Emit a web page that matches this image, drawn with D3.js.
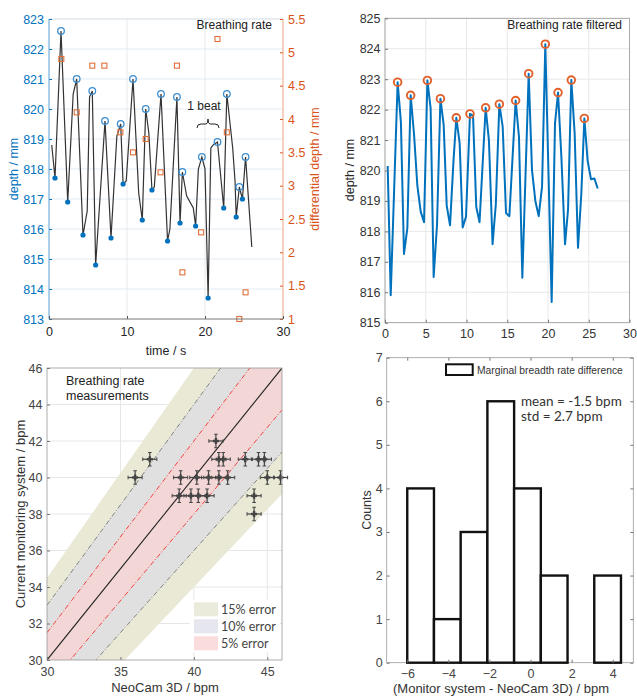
<!DOCTYPE html>
<html><head><meta charset="utf-8">
<script src="https://cdn.jsdelivr.net/npm/d3@7"></script>
<style>body{margin:0;background:#fff}svg{display:block}text{font-family:"Liberation Sans",Arial,sans-serif}</style>
</head><body><svg id="c" width="637" height="696"></svg>
<script>
// ---------- DATA ----------
// Panel A: raw breathing signal
const rawTime  = [0.35,0.77,1.54,2.4,3.1,3.55,4.36,4.9,5.2,5.55,5.98,7.18,7.95,8.7,9.19,9.5,9.9,10.77,11.5,11.96,12.4,12.8,13.2,13.5,14.36,15.2,15.5,16.4,16.8,17.1,17.65,18.5,18.8,19.15,19.6,20.0,20.4,20.75,21.05,21.6,22.4,22.8,23.55,23.85,24.0,24.4,24.8,25.2,26.0];
const rawDepth = [818.8,817.7,822.6,816.9,820.5,821.0,815.8,816.6,820.4,820.6,814.8,819.6,815.7,819.1,819.5,817.5,817.6,821.0,817.2,816.3,820.0,819.2,817.3,817.4,820.5,815.6,816.0,820.4,816.2,817.9,817.1,816.7,816.1,818.0,818.4,818.0,813.7,818.7,818.8,818.9,816.7,820.5,818.7,817.6,816.4,817.4,817.0,818.4,815.4];
const peakTime  = [1.54,3.55,5.55,7.18,9.19,10.77,12.4,14.36,16.4,17.1,19.6,21.6,22.8,24.4,25.2];
const peakDepth = [822.6,821.0,820.6,819.6,819.5,821.0,820.0,820.5,820.4,817.9,818.4,818.9,820.5,817.4,818.4];
const troughTime  = [0.77,2.4,4.36,5.98,7.95,9.5,11.96,13.2,15.2,16.8,18.8,20.4,22.4,24.0,24.8];
const troughDepth = [817.7,816.9,815.8,814.8,815.7,817.5,816.3,817.3,815.6,816.2,816.1,813.7,816.7,816.4,817.0];
const diffTime  = [1.58,3.55,5.55,7.1,9.15,10.77,12.4,14.3,16.4,17.1,19.5,21.6,22.8,24.4,25.2];
const diffValue = [4.9,4.1,4.8,4.8,3.8,3.5,3.7,3.2,4.8,1.7,2.3,5.2,3.8,1.0,1.4];
const depthTicksA = [813,814,815,816,817,818,819,820,821,822,823];
const diffTicks = [1,1.5,2,2.5,3,3.5,4,4.5,5,5.5];
const timeTicksA = [0,10,20,30];
// Panel B: filtered signal
const filtTime  = [0.33,0.7,1.55,1.95,2.33,2.74,3.15,3.56,3.97,4.38,4.79,5.2,5.6,5.97,6.38,6.8,7.2,7.57,7.98,8.4,8.75,9.16,9.53,9.94,10.43,10.8,11.2,11.6,12.35,12.75,13.2,13.6,14.03,14.44,14.85,15.26,16.03,16.44,16.85,17.63,18.04,18.45,18.86,19.27,19.67,20.45,20.86,21.23,21.64,22.09,22.46,22.86,23.27,23.68,24.09,24.46,24.87,25.28,25.69,26.1];
const filtDepth = [820.15,815.9,822.9,821.6,817.26,818.1,822.47,821.2,819.5,818.65,818.3,822.96,822.04,816.5,818.2,822.36,821.5,818.85,818.2,820.3,821.73,820.9,818.13,818.48,821.86,821.8,818.8,818.3,822.06,821.0,817.58,818.9,822.18,821.44,818.6,818.5,822.3,821.1,816.48,823.18,820.0,819.0,818.5,819.47,824.15,815.68,821.55,822.56,820.45,817.58,818.72,822.97,821.22,817.46,819.25,821.71,820.31,819.71,819.74,819.41];
const filtPeakTime  = [1.55,3.15,5.2,6.8,8.75,10.43,12.35,14.03,16.03,17.63,19.67,21.23,22.86,24.46];
const filtPeakDepth = [822.9,822.47,822.96,822.36,821.73,821.86,822.06,822.18,822.3,823.18,824.15,822.56,822.97,821.71];
const depthTicksB = [815,816,817,818,819,820,821,822,823,824,825];
const timeTicksB = [0,5,10,15,20,25,30];
// Panel C: measurement comparison
const neoCam  = [36,37,41.5,41.7,42.0,43.5,44.4,44.8,39.1,40.2,41.0,41.7,42.3,45.0,45.9,39.0,39.8,40.3,40.9,44.1,44.1];
const monitor = [40,41,42,41,41,41,41,41,40,40,40,40,40,40,40,39,39,39,39,39,38];
const errorLevels = [0.15,0.10,0.05];
const errorLabels = ["15% error","10% error","5% error"];
const bpmTicksX = [30,35,40,45];
const bpmTicksY = [30,32,34,36,38,40,42,44,46];
// Panel D: histogram
const binEdges  = [-6,-4.7,-3.4,-2.1,-0.8,0.5,1.8,3.1,4.4];
const binCounts = [4,1,3,6,4,2,0,2];
const diffTicksX = [-6,-4,-2,0,2,4];
const countTicks = [0,1,2,3,4,5,6,7];

// ---------- DRAW ----------
const svg = d3.select("#c");
const FONT = '"Liberation Sans", Arial, sans-serif';
const CAL = 'Lato, "Open Sans", sans-serif';
const BLUE = "#0072BD", ORANGE = "#D95319";
const fmtInt = d3.format("d");

function styleAxis(g, lineColor, textColor, size) {
  g.select(".domain").remove();
  g.selectAll(".tick line").attr("stroke", lineColor);
  g.selectAll(".tick text").attr("fill", textColor).style("font-size", size + "px").style("font-family", FONT);
}
function hline(g, x1, x2, y, c, w) { g.append("line").attr("x1", x1).attr("x2", x2).attr("y1", y).attr("y2", y).attr("stroke", c).attr("stroke-width", w || 1); }
function vline(g, x, y1, y2, c, w) { g.append("line").attr("x1", x).attr("x2", x).attr("y1", y1).attr("y2", y2).attr("stroke", c).attr("stroke-width", w || 1); }

// ===== Panel A =====
{
  const g = svg.append("g");
  const x = d3.scaleLinear([0, 30], [49, 283]);
  const yL = d3.scaleLinear([813, 823], [319, 19]);
  const yR = d3.scaleLinear([1, 5.5], [319, 19]);
  depthTicksA.slice(1, -1).forEach(d => hline(g, x(0), x(30), yL(d), "#e2ebf4"));
  [10, 20].forEach(t => vline(g, x(t), yL(823), yL(813), "#e6eaee"));
  hline(g, x(0), x(30), yL(823), "#d2dce6");

  const line = d3.line().x(d => x(d[0])).y(d => yL(d[1]));
  g.append("path").datum(rawTime.map((t, i) => [t, rawDepth[i]])).attr("d", line)
    .attr("fill", "none").attr("stroke", "#333").attr("stroke-width", 1.2);
  g.selectAll(null).data(peakTime).join("circle").attr("cx", d => x(d)).attr("cy", (d, i) => yL(peakDepth[i]))
    .attr("r", 3.3).attr("fill", "none").attr("stroke", "#3d8fd1").attr("stroke-width", 1.3);
  g.selectAll(null).data(troughTime).join("circle").attr("cx", d => x(d)).attr("cy", (d, i) => yL(troughDepth[i]))
    .attr("r", 2.6).attr("fill", BLUE);
  g.selectAll(null).data(diffTime).join("rect").attr("x", d => x(d) - 2.5).attr("y", (d, i) => yR(diffValue[i]) - 2.5)
    .attr("width", 5).attr("height", 5).attr("fill", "none").attr("stroke", "#e0703a").attr("stroke-width", 1.1);

  const ga = g.append("g").attr("transform", "translate(49,0)")
    .call(d3.axisLeft(yL).tickValues(depthTicksA).tickSize(-3).tickPadding(5).tickFormat(fmtInt));
  styleAxis(ga, BLUE, BLUE, 12.5);
  vline(g, 49, 19, 319, "#5a9fd6");
  const gr = g.append("g").attr("transform", "translate(283,0)")
    .call(d3.axisRight(yR).tickValues(diffTicks).tickSize(-3).tickPadding(5).tickFormat(d => d));
  styleAxis(gr, ORANGE, ORANGE, 12.5);
  vline(g, 283, 19, 319, "#eba17c");
  const gb = g.append("g").attr("transform", "translate(0,319)")
    .call(d3.axisBottom(x).tickValues(timeTicksA).tickSize(-3).tickPadding(8).tickFormat(fmtInt));
  styleAxis(gb, "#555", "#262626", 12.5);
  hline(g, 49, 283, 319, "#777");

  g.append("text").attr("x", 14).attr("y", 169).attr("transform", "rotate(-90,14,169)").attr("text-anchor", "middle")
    .attr("dy", "0.35em").attr("fill", BLUE).style("font-size", "12.5px").text("depth / mm");
  g.append("text").attr("x", 315).attr("y", 169).attr("transform", "rotate(-90,315,169)").attr("text-anchor", "middle")
    .attr("dy", "0.35em").attr("fill", ORANGE).style("font-size", "12.5px").text("differential depth / mm");
  g.append("text").attr("x", 166).attr("y", 355).attr("text-anchor", "middle").attr("fill", "#262626")
    .style("font-size", "12.5px").text("time / s");
  g.append("text").attr("x", 272).attr("y", 29).attr("text-anchor", "end").attr("fill", "#222")
    .style("font-size", "12px").text("Breathing rate");
  g.append("text").attr("x", 204).attr("y", 110).attr("text-anchor", "middle").attr("fill", "#222")
    .style("font-size", "12px").text("1 beat");
  g.append("path").attr("d", "M197,128 Q197,124 201,124 L206,124 Q208,124 208,119 Q208,124 210,124 L215,124 Q219,124 219,128")
    .attr("fill", "none").attr("stroke", "#222").attr("stroke-width", 1);
}

// ===== Panel B =====
{
  const g = svg.append("g");
  const x = d3.scaleLinear([0, 30], [385, 629.5]);
  const y = d3.scaleLinear([815, 825], [322.7, 18.3]);
  depthTicksB.forEach(d => hline(g, x(0), x(30), y(d), "#e8e8e8"));
  timeTicksB.forEach(t => vline(g, x(t), y(825), y(815), "#e8e8e8"));
  g.append("rect").attr("x", x(0)).attr("y", y(825)).attr("width", x(30) - x(0)).attr("height", y(815) - y(825))
    .attr("fill", "none").attr("stroke", "#9a9a9a").attr("stroke-width", 0.8);
  const line = d3.line().x(d => x(d[0])).y(d => y(d[1]));
  g.append("path").datum(filtTime.map((t, i) => [t, filtDepth[i]])).attr("d", line)
    .attr("fill", "none").attr("stroke", BLUE).attr("stroke-width", 2).attr("stroke-linejoin", "round");
  g.selectAll(null).data(filtPeakTime).join("circle").attr("cx", d => x(d)).attr("cy", (d, i) => y(filtPeakDepth[i]))
    .attr("r", 3.8).attr("fill", "none").attr("stroke", "#e2602a").attr("stroke-width", 1.9);
  const ga = g.append("g").attr("transform", "translate(385,0)")
    .call(d3.axisLeft(y).tickValues(depthTicksB).tickSize(-3).tickPadding(4.5).tickFormat(fmtInt));
  styleAxis(ga, "#777", "#333", 12.5);
  const gb = g.append("g").attr("transform", "translate(0,322.7)")
    .call(d3.axisBottom(x).tickValues(timeTicksB).tickSize(-3).tickPadding(6).tickFormat(fmtInt));
  styleAxis(gb, "#777", "#333", 12.5);
  g.append("text").attr("x", 350).attr("y", 170).attr("transform", "rotate(-90,350,170)").attr("text-anchor", "middle")
    .attr("dy", "0.35em").attr("fill", "#262626").style("font-size", "12.5px").text("depth / mm");
  g.append("text").attr("x", 622).attr("y", 29).attr("text-anchor", "end").attr("fill", "#222")
    .style("font-size", "12px").text("Breathing rate filtered");
}

// ===== Panel C =====
{
  const g = svg.append("g");
  const x = d3.scaleLinear([30, 46], [47, 282]);
  const y = d3.scaleLinear([30, 46], [660, 368]);
  svg.append("defs").append("clipPath").attr("id", "clipC").append("rect")
    .attr("x", x(30)).attr("y", y(46)).attr("width", x(46) - x(30)).attr("height", y(30) - y(46));
  bpmTicksX.slice(1).forEach(v => vline(g, x(v), y(46), y(30), "#e6e6e6"));
  bpmTicksY.slice(1, -1).forEach(v => hline(g, x(30), x(46), y(v), "#e6e6e6"));
  const cg = g.append("g").attr("clip-path", "url(#clipC)");
  const bandColors = ["#e9e9d6", "#e0e0e0", "#f3d6d6"];
  errorLevels.forEach((e, i) => {
    const pts = [[30, 30 * (1 + e)], [46, 46 * (1 + e)], [46, 46 * (1 - e)], [30, 30 * (1 - e)]];
    cg.append("polygon").attr("points", pts.map(p => [x(p[0]), y(p[1])].join(",")).join(" ")).attr("fill", bandColors[i]);
  });
  const ln = (k, color, dash, w) => cg.append("line").attr("x1", x(30)).attr("y1", y(30 * k)).attr("x2", x(46)).attr("y2", y(46 * k))
    .attr("stroke", color).attr("stroke-width", w).attr("stroke-dasharray", dash);
  ln(1.10, "#777", "5,2,1,2", 0.9); ln(0.90, "#777", "5,2,1,2", 0.9);
  ln(1.05, "#f03030", "5,2,1,2", 0.9); ln(0.95, "#f03030", "5,2,1,2", 0.9);
  ln(1.0, "#222", null, 1.1);
  // crosses
  const cr = g.append("g").attr("stroke", "#444");
  neoCam.forEach((v, i) => {
    const cx = x(v), cy = y(monitor[i]);
    const hx = x(v + 0.48) - cx, vy = cy - y(monitor[i] + 0.37);
    cr.append("line").attr("x1", cx - hx).attr("x2", cx + hx).attr("y1", cy).attr("y2", cy).attr("stroke-width", 1.2);
    cr.append("line").attr("x1", cx).attr("x2", cx).attr("y1", cy - vy).attr("y2", cy + vy).attr("stroke-width", 1.2);
    cr.append("line").attr("x1", cx - 3).attr("x2", cx + 3).attr("y1", cy).attr("y2", cy).attr("stroke-width", 2.4);
    cr.append("line").attr("x1", cx).attr("x2", cx).attr("y1", cy - 3).attr("y2", cy + 3).attr("stroke-width", 2.4);
    cr.append("line").attr("x1", cx - hx).attr("x2", cx - hx).attr("y1", cy - 1.8).attr("y2", cy + 1.8).attr("stroke-width", 1);
    cr.append("line").attr("x1", cx + hx).attr("x2", cx + hx).attr("y1", cy - 1.8).attr("y2", cy + 1.8).attr("stroke-width", 1);
    cr.append("line").attr("x1", cx - 1.8).attr("x2", cx + 1.8).attr("y1", cy - vy).attr("y2", cy - vy).attr("stroke-width", 1);
    cr.append("line").attr("x1", cx - 1.8).attr("x2", cx + 1.8).attr("y1", cy + vy).attr("y2", cy + vy).attr("stroke-width", 1);
  });
  g.append("rect").attr("x", x(30)).attr("y", y(46)).attr("width", x(46) - x(30)).attr("height", y(30) - y(46))
    .attr("fill", "none").attr("stroke", "#999").attr("stroke-width", 0.8);
  const ga = g.append("g").attr("transform", `translate(${x(30)},0)`)
    .call(d3.axisLeft(y).tickValues(bpmTicksY).tickSize(-3).tickPadding(4.5).tickFormat(fmtInt));
  styleAxis(ga, "#777", "#444", 12.5);
  const gb = g.append("g").attr("transform", `translate(0,${y(30)})`)
    .call(d3.axisBottom(x).tickValues(bpmTicksX).tickSize(-3).tickPadding(7).tickFormat(fmtInt));
  styleAxis(gb, "#777", "#444", 12.5);
  // legend
  const leg = g.append("g");
  leg.append("rect").attr("x", 190).attr("y", 600).attr("width", 90).attr("height", 52).attr("fill", "#fff");
  const swC = ["#ebebdc", "#e6e6ee", "#fadcdc"];
  errorLabels.forEach((t, i) => {
    const cy = 609.3 + i * 17;
    leg.append("rect").attr("x", 194).attr("y", cy - 7).attr("width", 24).attr("height", 14).attr("fill", swC[i]);
    leg.append("text").attr("x", 221).attr("y", cy).attr("dy", "0.35em").attr("fill", "#444")
      .style("font-family", CAL).style("font-size", "12.5px").text(t);
  });
  g.append("text").attr("x", 66).attr("y", 385).attr("fill", "#222").style("font-size", "12.5px").text("Breathing rate");
  g.append("text").attr("x", 66).attr("y", 400).attr("fill", "#222").style("font-size", "12.5px").text("measurements");
  g.append("text").attr("x", 20).attr("y", 514).attr("transform", "rotate(-90,20,514)").attr("text-anchor", "middle")
    .attr("dy", "0.35em").attr("fill", "#333").style("font-size", "13px").text("Current monitoring system / bpm");
  g.append("text").attr("x", 165).attr("y", 692).attr("text-anchor", "middle").attr("fill", "#333")
    .style("font-size", "13px").text("NeoCam 3D / bpm");
}

// ===== Panel D =====
{
  const g = svg.append("g");
  const x = d3.scaleLinear([-7, 5], [386.7, 633.3]);
  const y = d3.scaleLinear([0, 7], [662.7, 357.7]);
  g.append("rect").attr("x", x(-7)).attr("y", y(7)).attr("width", x(5) - x(-7)).attr("height", y(0) - y(7))
    .attr("fill", "none").attr("stroke", "#999").attr("stroke-width", 0.8);
  g.selectAll(null).data(binCounts).join("rect")
    .attr("x", (d, i) => x(binEdges[i])).attr("width", (d, i) => x(binEdges[i + 1]) - x(binEdges[i]))
    .attr("y", d => y(d)).attr("height", d => y(0) - y(d))
    .attr("fill", "#fff").attr("stroke", "#111").attr("stroke-width", 2.4);
  const ga = g.append("g").attr("transform", `translate(${x(-7)},0)`)
    .call(d3.axisLeft(y).tickValues(countTicks).tickSize(-3).tickPadding(4).tickFormat(fmtInt));
  styleAxis(ga, "#777", "#444", 12.5);
  const gr = g.append("g").attr("transform", `translate(${x(5)},0)`)
    .call(d3.axisRight(y).tickValues(countTicks).tickSize(-3).tickFormat(""));
  styleAxis(gr, "#777", "#444", 12.5);
  const gb = g.append("g").attr("transform", `translate(0,${y(0)})`)
    .call(d3.axisBottom(x).tickValues(diffTicksX).tickSize(-3).tickPadding(6).tickFormat(fmtInt));
  styleAxis(gb, "#777", "#444", 12.5);
  const gt = g.append("g").attr("transform", `translate(0,${y(7)})`)
    .call(d3.axisTop(x).tickValues(diffTicksX).tickSize(-3).tickFormat(""));
  styleAxis(gt, "#777", "#444", 12.5);
  // legend
  g.append("rect").attr("x", 446).attr("y", 364.3).attr("width", 26.7).attr("height", 10.7)
    .attr("fill", "#fff").attr("stroke", "#111").attr("stroke-width", 2);
  g.append("text").attr("x", 477).attr("y", 370).attr("dy", "0.35em").attr("fill", "#333")
    .style("font-size", "10.3px").text("Marginal breadth rate difference");
  g.append("text").attr("x", 521).attr("y", 405.5).attr("fill", "#333").style("font-family", CAL)
    .style("font-size", "13.5px").text("mean = -1.5 bpm");
  g.append("text").attr("x", 521).attr("y", 420.5).attr("fill", "#333").style("font-family", CAL)
    .style("font-size", "13.5px").text("std = 2.7 bpm");
  g.append("text").attr("x", 367).attr("y", 510).attr("transform", "rotate(-90,367,510)").attr("text-anchor", "middle")
    .attr("dy", "0.35em").attr("fill", "#333").style("font-size", "12.5px").text("Counts");
  g.append("text").attr("x", 501).attr("y", 693).attr("text-anchor", "middle").attr("fill", "#333")
    .style("font-size", "13px").text("(Monitor system  - NeoCam 3D) / bpm");
}
</script></body></html>
